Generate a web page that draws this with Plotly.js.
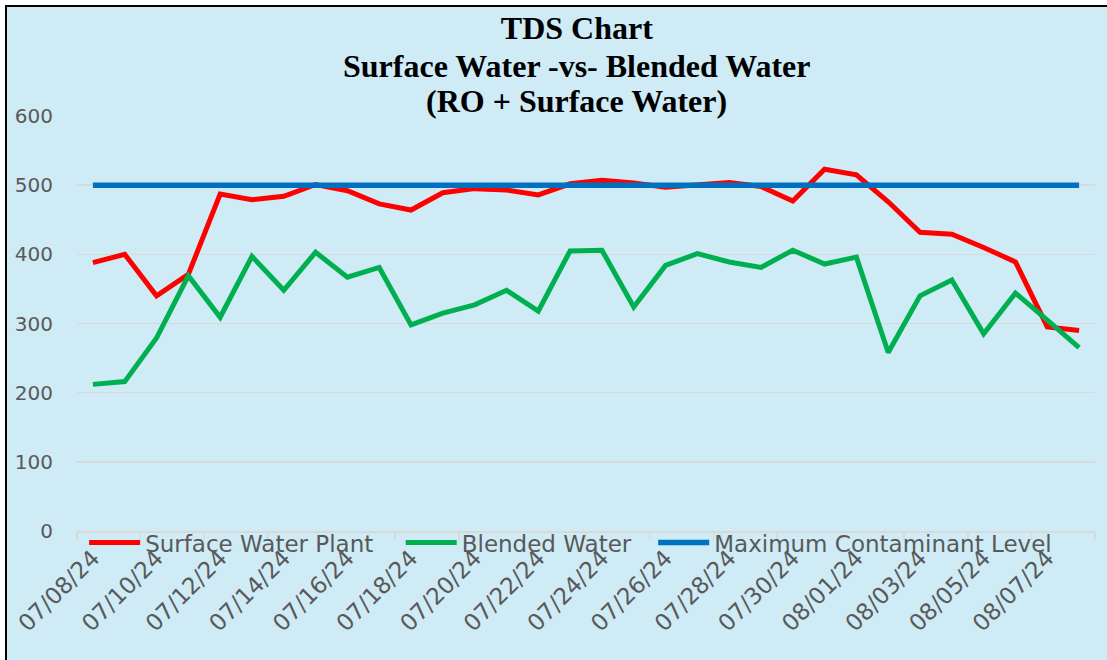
<!DOCTYPE html>
<html>
<head>
<meta charset="utf-8">
<script src="https://cdn.plot.ly/plotly-3.0.1.min.js"></script>
<style>
  html, body { margin: 0; padding: 0; background: #ffffff; width: 1107px; height: 660px; overflow: hidden; }
  #frame { position: absolute; left: 5px; top: 5px; width: 1102px; height: 655px; border-top: 2px solid #000; border-left: 2px solid #000; box-sizing: border-box; }
  #chart { width: 1100px; height: 653px; }
</style>
</head>
<body>
<div id="frame"><div id="chart"></div></div>
<script>
const dates = ["07/08/24","07/09/24","07/10/24","07/11/24","07/12/24","07/13/24","07/14/24","07/15/24",
  "07/16/24","07/17/24","07/18/24","07/19/24","07/20/24","07/21/24","07/22/24","07/23/24",
  "07/24/24","07/25/24","07/26/24","07/27/24","07/28/24","07/29/24","07/30/24","07/31/24",
  "08/01/24","08/02/24","08/03/24","08/04/24","08/05/24","08/06/24","08/07/24","08/08/24"];
const surfaceWaterPlant = [388, 400, 340, 371, 487, 479, 484, 501, 492, 473, 464, 489, 495, 493, 486, 502,
  507, 503, 497, 501, 504, 498, 477, 523, 515, 476, 432, 429, 410, 389, 295, 290];
const blendedWater = [212, 216, 279, 369, 309, 397, 348, 403, 367, 381, 298, 315, 327, 348, 318, 405,
  406, 324, 384, 401, 389, 381, 406, 386, 396, 258, 340, 363, 285, 344, 305, 265];
const maxContaminantLevel = [500, 500, 500, 500, 500, 500, 500, 500, 500, 500, 500, 500, 500, 500, 500, 500,
  500, 500, 500, 500, 500, 500, 500, 500, 500, 500, 500, 500, 500, 500, 500, 500];
const seriesNames = ["Surface Water Plant", "Blended Water", "Maximum Contaminant Level"];
const titleLines = ["TDS Chart", "Surface Water -vs- Blended Water", "(RO + Surface Water)"];

const labelFamily = "DejaVu Sans, Lato, sans-serif";
const titleFont = { family: "Liberation Serif, Times New Roman, serif", size: 32, color: "#000000" };

const traces = [
  { x: dates, y: surfaceWaterPlant, name: seriesNames[0], type: "scatter", mode: "lines",
    line: { color: "#FF0000", width: 5 }, legend: "legend" },
  { x: dates, y: blendedWater, name: seriesNames[1], type: "scatter", mode: "lines",
    line: { color: "#00B050", width: 5 }, legend: "legend2" },
  { x: dates, y: maxContaminantLevel, name: seriesNames[2], type: "scatter", mode: "lines",
    line: { color: "#0070C0", width: 5.5 }, legend: "legend3" }
];

function legendAt(xPos) {
  return {
    orientation: "h",
    x: xPos, xanchor: "left",
    y: -0.028, yanchor: "middle",
    itemwidth: 51,
    bgcolor: "rgba(0,0,0,0)",
    font: { family: labelFamily, size: 23, color: "#595959" }
  };
}

const layout = {
  width: 1100, height: 653,
  paper_bgcolor: "#CEEBF6", plot_bgcolor: "#CEEBF6",
  margin: { l: 70, r: 12, t: 109, b: 129 },
  title: {
    text: "<b>" + titleLines[0] + "</b>",
    font: titleFont,
    xref: "paper", x: 0.491, xanchor: "center",
    yref: "container", y: 0.968, yanchor: "middle"
  },
  annotations: [
    { text: "<b>" + titleLines[1] + "</b>", font: titleFont, showarrow: false,
      xref: "paper", yref: "paper", x: 0.491, xanchor: "center", y: 1.120, yanchor: "middle" },
    { text: "<b>" + titleLines[2] + "</b>", font: titleFont, showarrow: false,
      xref: "paper", yref: "paper", x: 0.491, xanchor: "center", y: 1.0357, yanchor: "middle" }
  ],
  xaxis: {
    type: "category",
    range: [-0.5, 31.5],
    tickmode: "linear", tick0: 0, dtick: 2,
    tickson: "boundaries",
    ticks: "outside", ticklen: 7, tickcolor: "#D9D9D9", tickwidth: 1.5,
    tickangle: -45,
    ticklabelstandoff: 3,
    tickfont: { family: labelFamily, size: 23, color: "#595959" },
    showgrid: false,
    showline: true, linecolor: "#D9D9D9", linewidth: 1.5,
    zeroline: false,
    fixedrange: true
  },
  yaxis: {
    range: [0, 600], dtick: 100, tick0: 0,
    showgrid: true, gridcolor: "#D9D9D9", gridwidth: 1.5,
    zeroline: false, showline: false,
    ticks: "", ticklabelstandoff: 23,
    tickfont: { family: labelFamily, size: 20, color: "#595959" },
    fixedrange: true
  },
  showlegend: true,
  legend: legendAt(0.007),
  legend2: legendAt(0.318),
  legend3: legendAt(0.566)
};

Plotly.newPlot("chart", traces, layout, { displayModeBar: false, staticPlot: true });
</script>
</body>
</html>
